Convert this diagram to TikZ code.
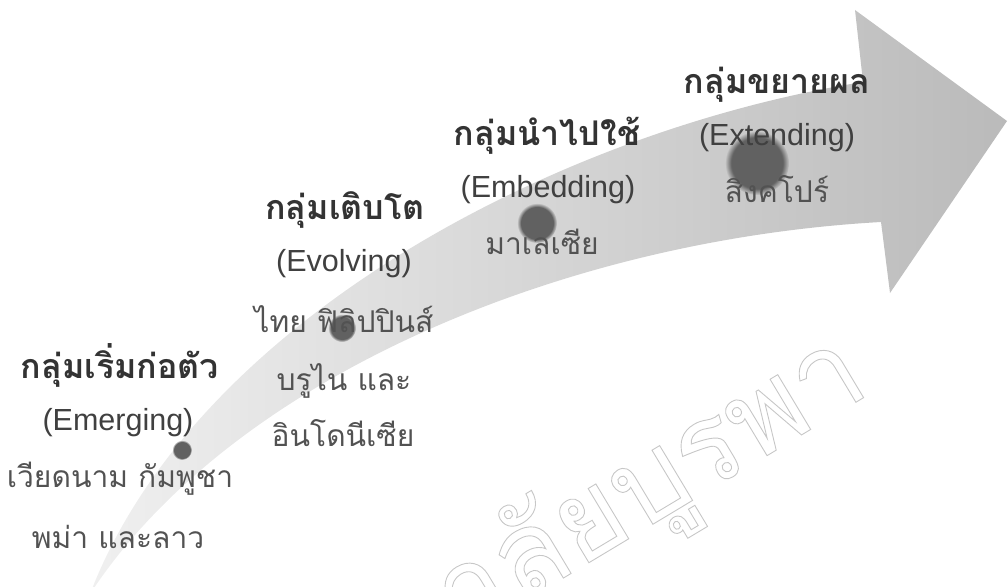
\documentclass[tikz,border=0pt]{standalone}
\usepackage{fontspec}
\setmainfont{Liberation Sans}
\newfontfamily\thai[Script=Thai]{Loma}
\usetikzlibrary{fadings}
\tikzset{
  grptitle/.style={font=\thai\bfseries\fontsize{34}{36}\selectfont, text=black!80, anchor=base, inner sep=0pt},
  grpeng/.style={font=\fontsize{30.5}{32}\selectfont, text=black!75, anchor=base, inner sep=0pt},
  grpcountry/.style={font=\thai\fontsize{30}{32}\selectfont, text=black!68, anchor=base, inner sep=0pt},
  blob/.style={fill=black!62, path fading=circle with fuzzy edge 20 percent},
}
\newcommand\outlinetext[1]{\special{pdf:literal direct 1 Tr 0.9 w 0.78 G}#1\special{pdf:literal direct 0 Tr}}
\begin{document}
\begin{tikzpicture}[x=1pt,y=-1pt]
\useasboundingbox (0,0) rectangle (1008,586);
\begin{scope}
\clip (0,0) rectangle (1008,586);
% watermark
\node[rotate=31, anchor=base east, inner sep=0pt, text=black!12,
      font=\thai\fontsize{115}{120}\selectfont] (wm) at (873,392)
  {\outlinetext{มหาวิทยาลัยบูรพา}};
% arrow
\shade[left color=black!6, right color=black!27]
  (90,594) .. controls (195,320) and (560,130) .. (863,82)
  -- (855,10) -- (1007,121) -- (890,293) -- (881,222)
  .. controls (560,240) and (230,380) .. (90,594) -- cycle;
% blobs
\fill[blob] (182,450) circle (10pt);
\fill[blob] (342,328) circle (14pt);
\fill[blob] (537,223) circle (20pt);
\fill[blob] (757,163) circle (32pt);
\end{scope}
% group 1
\node[grptitle] (t1) at (120,378) {กลุ่มเริ่มก่อตัว};
\node[grpeng] (e1) at (118,430) {(Emerging)};
\node[grpcountry] (c1a) at (120,487) {เวียดนาม กัมพูชา};
\node[grpcountry] (c1b) at (118,548) {พม่า และลาว};
% group 2
\node[grptitle] (t2) at (345,219) {กลุ่มเติบโต};
\node[grpeng] (e2) at (344,271) {(Evolving)};
\node[grpcountry] (c2a) at (344,332) {ไทย ฟิลิปปินส์};
\node[grpcountry] (c2b) at (344,390) {บรูไน และ};
\node[grpcountry] (c2c) at (343,446) {อินโดนีเซีย};
% group 3
\node[grptitle] (t3) at (547,145) {กลุ่มนำไปใช้};
\node[grpeng] (e3) at (548,197) {(Embedding)};
\node[grpcountry] (c3a) at (542,254) {มาเลเซีย};
% group 4
\node[grptitle] (t4) at (777,93) {กลุ่มขยายผล};
\node[grpeng] (e4) at (777,145) {(Extending)};
\node[grpcountry] (c4a) at (777,202) {สิงคโปร์};
\end{tikzpicture}
\end{document}
